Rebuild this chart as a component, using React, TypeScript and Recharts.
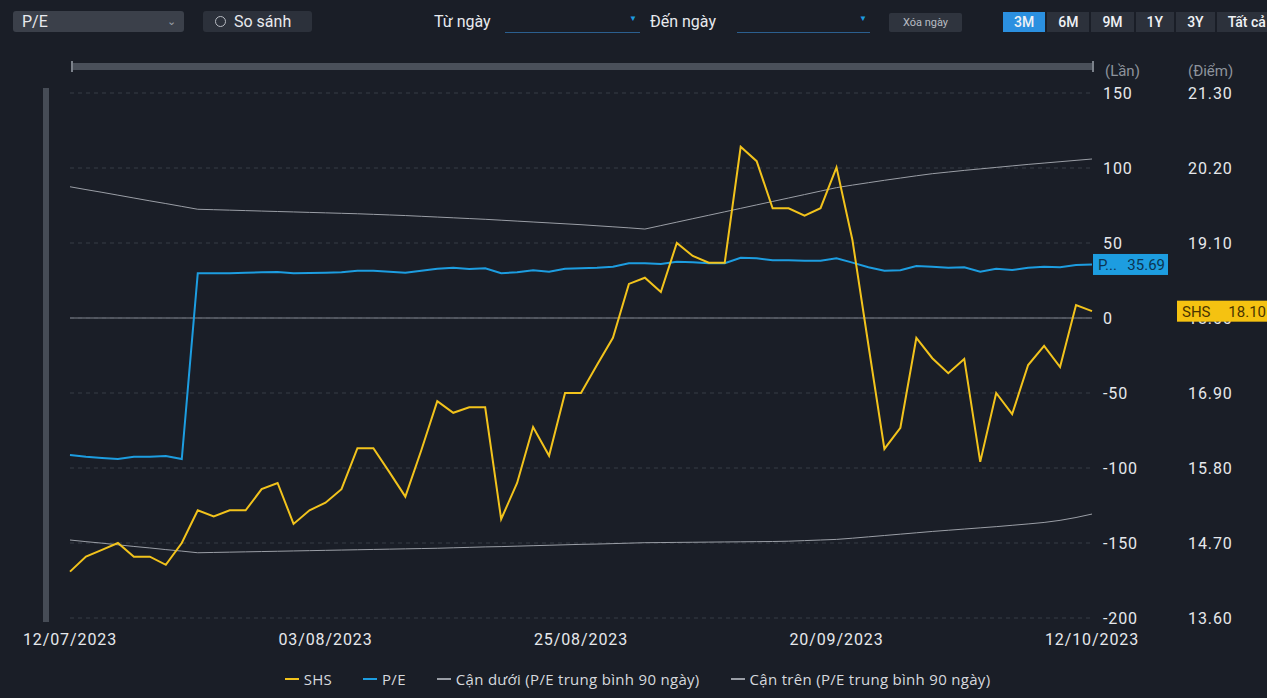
import React from 'react'
import {
  LineChart,
  Line,
  XAxis,
  YAxis,
  CartesianGrid,
  ReferenceLine,
} from 'recharts'

// trading days, 12/07/2023 -> 12/10/2023
const dates = [
  '12/07/2023', '13/07/2023', '14/07/2023', '17/07/2023', '18/07/2023', '19/07/2023', '20/07/2023',
  '21/07/2023', '24/07/2023', '25/07/2023', '26/07/2023', '27/07/2023', '28/07/2023', '31/07/2023',
  '01/08/2023', '02/08/2023', '03/08/2023', '04/08/2023', '07/08/2023', '08/08/2023', '09/08/2023',
  '10/08/2023', '11/08/2023', '14/08/2023', '15/08/2023', '16/08/2023', '17/08/2023', '18/08/2023',
  '21/08/2023', '22/08/2023', '23/08/2023', '24/08/2023', '25/08/2023', '28/08/2023', '29/08/2023',
  '30/08/2023', '31/08/2023', '05/09/2023', '06/09/2023', '07/09/2023', '08/09/2023', '11/09/2023',
  '12/09/2023', '13/09/2023', '14/09/2023', '15/09/2023', '18/09/2023', '19/09/2023', '20/09/2023',
  '21/09/2023', '22/09/2023', '25/09/2023', '26/09/2023', '27/09/2023', '28/09/2023', '29/09/2023',
  '02/10/2023', '03/10/2023', '04/10/2023', '05/10/2023', '06/10/2023', '09/10/2023', '10/10/2023',
  '11/10/2023', '12/10/2023',
]

// SHS price (Điểm, right axis)
const shs = [
  14.28, 14.5, 14.6, 14.7, 14.5, 14.5, 14.38, 14.7, 15.18, 15.09, 15.18, 15.18, 15.49, 15.58,
  14.98, 15.18, 15.29, 15.49, 16.09, 16.09, 15.74, 15.38, 16.06, 16.78, 16.61, 16.69, 16.69,
  15.05, 15.58, 16.4, 15.98, 16.9, 16.9, 17.31, 17.71, 18.5, 18.59, 18.38, 19.1, 18.91, 18.81,
  18.81, 20.51, 20.3, 19.61, 19.61, 19.5, 19.61, 20.21, 19.14, 17.6, 16.08, 16.39, 17.71, 17.41,
  17.19, 17.4, 15.89, 16.9, 16.59, 17.31, 17.59, 17.28, 18.19, 18.1,
]

// P/E (Lần, left axis)
const pe = [
  -91.3, -92.5, -93.3, -94.0, -92.5, -92.5, -92.0, -94.0, 29.8, 29.8, 29.8, 30.2, 30.5, 30.7,
  29.8, 30.0, 30.2, 30.5, 31.5, 31.5, 30.9, 30.2, 31.5, 32.9, 33.5, 32.7, 33.1, 29.8, 30.5,
  31.8, 30.9, 32.9, 33.1, 33.5, 34.2, 36.5, 36.5, 36.0, 37.5, 37.1, 36.5, 36.5, 40.2, 39.8,
  38.5, 38.5, 38.2, 38.2, 39.8, 36.9, 33.8, 31.5, 31.8, 34.7, 34.2, 33.5, 33.8, 30.9, 32.9,
  32.0, 33.5, 34.2, 33.8, 35.3, 35.69,
]

// Cận dưới (P/E trung bình 90 ngày)
const lower = [
  -148.0, -149.1, -150.1, -151.2, -152.3, -153.3, -154.4, -155.4, -156.5, -156.3, -156.1, -155.9,
  -155.7, -155.5, -155.3, -155.1, -154.9, -154.7, -154.5, -154.3, -154.1, -153.9, -153.7, -153.5,
  -153.2, -152.9, -152.6, -152.4, -152.1, -151.8, -151.5, -151.2, -150.9, -150.7, -150.4, -150.1,
  -149.8, -149.7, -149.6, -149.5, -149.4, -149.3, -149.2, -149.1, -149.0, -148.8, -148.4, -148.0,
  -147.6, -146.8, -145.9, -145.0, -144.1, -143.2, -142.3, -141.5, -140.7, -139.9, -139.1, -138.2,
  -137.3, -136.3, -134.9, -133.0, -130.7,
]

// Cận trên (P/E trung bình 90 ngày)
const upper = [
  87.5, 85.6, 83.8, 81.9, 80.0, 78.1, 76.3, 74.4, 72.5, 72.2, 71.9, 71.6, 71.3, 71.0, 70.7,
  70.4, 70.1, 69.8, 69.5, 69.1, 68.7, 68.3, 67.8, 67.3, 66.8, 66.3, 65.8, 65.2, 64.6, 64.0,
  63.4, 62.8, 62.2, 61.5, 60.8, 60.1, 59.3, 61.6, 63.9, 66.2, 68.5, 70.8, 73.1, 75.4, 77.7,
  80.0, 82.3, 84.6, 86.9, 88.6, 90.2, 91.8, 93.3, 94.8, 96.2, 97.3, 98.4, 99.4, 100.4, 101.4,
  102.4, 103.3, 104.2, 105.1, 106.0,
]

const dateTicks = ['12/07/2023', '03/08/2023', '25/08/2023', '20/09/2023', '12/10/2023']
const lanTicks = [150, 100, 50, 0, -50, -100, -150, -200]
const diemTicks = [21.3, 20.2, 19.1, 18.0, 16.9, 15.8, 14.7, 13.6]
const periods = ['3M', '6M', '9M', '1Y', '3Y', 'Tất cả']

const YELLOW = '#f2c31c'
const BLUE = '#1d9de0'
const GRAY = '#9a9ea6'
const BG = '#1a1e27'
const FONT = 'Roboto, sans-serif'

const legendItems = [
  { name: 'SHS', color: YELLOW },
  { name: 'P/E', color: BLUE },
  { name: 'Cận dưới (P/E trung bình 90 ngày)', color: GRAY },
  { name: 'Cận trên (P/E trung bình 90 ngày)', color: GRAY },
]

const chartData = dates.map((d, i) => ({
  date: d,
  shs: shs[i],
  pe: pe[i],
  lower: lower[i],
  upper: upper[i],
}))

const tickStyle = { fill: '#e6e8ec', fontSize: 16, fontFamily: FONT, letterSpacing: 0.9 }

// tag drawn at the last point of a series
const lastTag = (prefix: string, bg: string, fg: string, dx: number, w: number, digits = 2) =>
  (props: any) => {
    const { x, y, index, value } = props
    if (index !== dates.length - 1) return null
    return (
      <g>
        <rect x={x + dx} y={y - 10.5} width={w} height={21} fill={bg} />
        <text x={x + dx + 5} y={y + 5.5} fill={fg} fontSize={15} fontFamily={FONT}>
          {prefix}
        </text>
        <text x={x + dx + w - 3} y={y + 5.5} fill={fg} fontSize={15} fontFamily={FONT} textAnchor='end'>
          {Number(value).toFixed(digits)}
        </text>
      </g>
    )
  }

const Toolbar = () => (
  <>
    <div style={{ position: 'absolute', left: 13, top: 11, width: 171, height: 21, background: '#3b404a', borderRadius: 3, color: '#e8eaee', fontSize: 16, lineHeight: '21px', paddingLeft: 9, boxSizing: 'border-box' }}>
      P/E
      <span style={{ position: 'absolute', right: 8, top: 0, fontSize: 11, color: '#9aa0a8' }}>⌄</span>
    </div>
    <div style={{ position: 'absolute', left: 203, top: 11, width: 109, height: 21, background: '#2c313b', borderRadius: 3, color: '#e8eaee', fontSize: 16, lineHeight: '21px', boxSizing: 'border-box', paddingLeft: 12 }}>
      <span style={{ display: 'inline-block', width: 9, height: 9, border: '1px solid #b8bcc3', borderRadius: '50%', marginRight: 8, verticalAlign: 0 }} />
      So sánh
    </div>
    <div style={{ position: 'absolute', left: 434, top: 11, color: '#e8eaee', fontSize: 16, lineHeight: '21px' }}>Từ ngày</div>
    <div style={{ position: 'absolute', left: 505, top: 32, width: 135, height: 1, background: '#2b5f8f' }} />
    <div style={{ position: 'absolute', left: 629, top: 14, color: BLUE, fontSize: 8 }}>▼</div>
    <div style={{ position: 'absolute', left: 650, top: 11, color: '#e8eaee', fontSize: 16, lineHeight: '21px' }}>Đến ngày</div>
    <div style={{ position: 'absolute', left: 737, top: 32, width: 133, height: 1, background: '#2b5f8f' }} />
    <div style={{ position: 'absolute', left: 859, top: 14, color: BLUE, fontSize: 8 }}>▼</div>
    <div style={{ position: 'absolute', left: 889, top: 13, width: 73, height: 19, background: '#2f343e', borderRadius: 2, color: '#b8bcc3', fontSize: 11, lineHeight: '19px', textAlign: 'center' }}>
      Xóa ngày
    </div>
    <div style={{ position: 'absolute', left: 1003, top: 12, height: 20, display: 'flex', whiteSpace: 'nowrap' }}>
      {periods.map((p, i) => (
        <div key={p} style={{ background: i === 0 ? '#2b90e0' : '#2c313b', color: '#f0f2f5', fontSize: 14, fontWeight: 500, lineHeight: '20px', padding: '0 11px', marginRight: 2 }}>
          {p}
        </div>
      ))}
    </div>
  </>
)

const Scrollbars = () => (
  <>
    <div style={{ position: 'absolute', left: 72, top: 63, width: 1021, height: 7, background: '#4a505a' }} />
    <div style={{ position: 'absolute', left: 71, top: 61, width: 2, height: 11, background: '#7b818a' }} />
    <div style={{ position: 'absolute', left: 1092, top: 61, width: 2, height: 11, background: '#7b818a' }} />
    <div style={{ position: 'absolute', left: 43, top: 88, width: 6, height: 534, background: '#464c56' }} />
  </>
)

const Legend = () => (
  <div style={{ position: 'absolute', left: 0, width: 1267, top: 669, display: 'flex', justifyContent: 'center', gap: 31, paddingLeft: 8, boxSizing: 'border-box', fontFamily: '"Open Sans", sans-serif' }}>
    {legendItems.map((it) => (
      <div key={it.name} style={{ display: 'flex', alignItems: 'center', color: '#d6d9de', fontSize: 15, letterSpacing: 0.3 }}>
        <span style={{ display: 'inline-block', width: 14, height: 2, background: it.color, marginRight: 5 }} />
        {it.name}
      </div>
    ))}
  </div>
)

const App: React.FC = () => {
  return (
    <div style={{ position: 'absolute', left: 0, top: 0, width: 1267, height: 698, background: BG, fontFamily: FONT, overflow: 'hidden' }}>
      <Toolbar />
      <Scrollbars />
      <div style={{ position: 'absolute', left: 1105, top: 62, color: '#8d939c', fontSize: 15 }}>(Lần)</div>
      <div style={{ position: 'absolute', left: 1188, top: 62, color: '#8d939c', fontSize: 15 }}>(Điểm)</div>
      <div style={{ position: 'absolute', left: 0, top: 0 }}>
        <LineChart
          width={1267}
          height={698}
          data={chartData}
          margin={{ top: 93, right: 0, left: 70, bottom: 50 }}
        >
          <CartesianGrid
            yAxisId='y1'
            vertical={false}
            strokeDasharray='4 4'
            stroke='#363c47'
          />
          <XAxis
            dataKey='date'
            ticks={dateTicks}
            interval={0}
            height={30}
            axisLine={false}
            tickLine={false}
            tickSize={0}
            tickMargin={16}
            tick={tickStyle}
          />
          <YAxis
            yAxisId='y1'
            orientation='right'
            width={80}
            domain={[-200, 150]}
            ticks={lanTicks}
            interval={0}
            axisLine={false}
            tickLine={false}
            tickSize={0}
            tickMargin={11}
            tick={{ ...tickStyle, textAnchor: 'start' }}
          />
          <YAxis
            yAxisId='y2'
            orientation='right'
            width={95}
            domain={[13.6, 21.3]}
            ticks={diemTicks}
            interval={0}
            axisLine={false}
            tickLine={false}
            tickSize={0}
            tickMargin={16}
            tickFormatter={(v: number) => v.toFixed(2)}
            tick={{ ...tickStyle, textAnchor: 'start' }}
          />
          <ReferenceLine yAxisId='y1' y={0} stroke='#7e838c' strokeWidth={1} />
          <Line
            yAxisId='y1'
            dataKey='upper'
            stroke={GRAY}
            strokeWidth={1}
            dot={false}
            isAnimationActive={false}
          />
          <Line
            yAxisId='y1'
            dataKey='lower'
            stroke={GRAY}
            strokeWidth={1}
            dot={false}
            isAnimationActive={false}
          />
          <Line
            yAxisId='y1'
            dataKey='pe'
            stroke={BLUE}
            strokeWidth={2}
            dot={false}
            isAnimationActive={false}
            label={lastTag('P...', BLUE, '#0c3552', 1, 75)}
          />
          <Line
            yAxisId='y2'
            dataKey='shs'
            stroke={YELLOW}
            strokeWidth={2}
            dot={false}
            isAnimationActive={false}
            label={lastTag('SHS', '#f5c211', '#4a3500', 85, 92)}
          />
        </LineChart>
      </div>
      <Legend />
    </div>
  )
}

export default App
